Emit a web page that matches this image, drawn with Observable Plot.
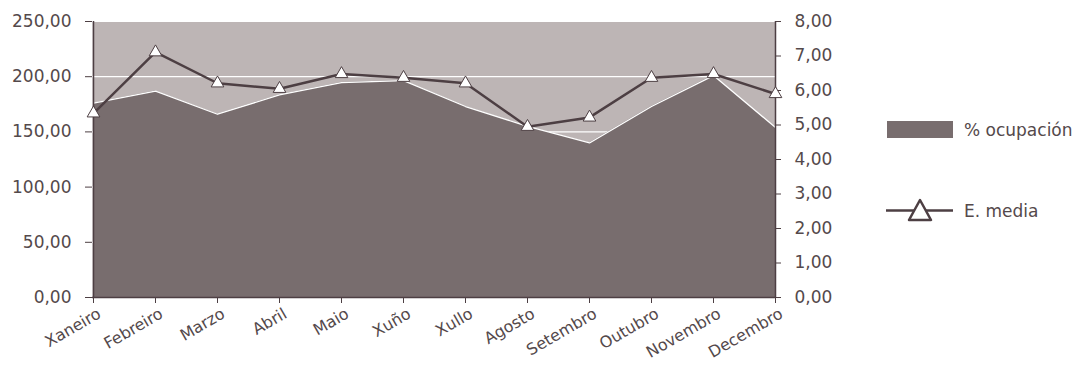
<!DOCTYPE html>
<html>
<head>
<meta charset="utf-8">
<script src="https://cdn.jsdelivr.net/npm/d3@7"></script>
<script src="https://cdn.jsdelivr.net/npm/@observablehq/plot@0.6"></script>
<style>
  body { margin: 0; background: #fff; font-family: "DejaVu Sans", sans-serif; }
  #wrap { position: relative; width: 1074px; height: 367px; }
  .leg { position: absolute; font-size: 17px; line-height: 20px; color: #54494b; font-family: "DejaVu Sans", sans-serif; white-space: nowrap; }
</style>
</head>
<body>
<div id="wrap"></div>
<script>
const months = ["Xaneiro","Febreiro","Marzo","Abril","Maio","Xuño","Xullo","Agosto","Setembro","Outubro","Novembro","Decembro"];
const ocupacion = [176, 187, 166, 183.5, 194.7, 196.5, 173, 155, 140, 173, 201, 154];
const emedia = [5.34, 7.11, 6.21, 6.05, 6.48, 6.37, 6.21, 4.95, 5.22, 6.37, 6.48, 5.90];
const leftTicks = [0, 50, 100, 150, 200, 250];
const rightTicks = [0, 1, 2, 3, 4, 5, 6, 7, 8];
const seriesNames = ["% ocupación", "E. media"];

const RMAX = 8, LMAX = 250;
const data = months.map((m, i) => ({month: m, ocup: ocupacion[i], media: emedia[i]}));
const toLeft = v => v * LMAX / RMAX;
const fmt = v => v.toFixed(2).replace(".", ",");

const dark = "#4d3f43";
const textCol = "#54494b";
const areaCol = "#786d6e";
const bgCol = "#bdb5b5";

const chart = Plot.plot({
  width: 1074,
  height: 367,
  marginLeft: 92,
  marginRight: 299,
  marginTop: 21,
  marginBottom: 70,
  style: {fontFamily: "DejaVu Sans, sans-serif", fontSize: "16px", color: textCol, background: "transparent"},
  x: {type: "point", domain: months, padding: 0},
  y: {domain: [0, LMAX]},
  marks: [
    Plot.frame({fill: bgCol, stroke: null}),
    Plot.gridY(leftTicks, {stroke: "#ffffff", strokeOpacity: 1, strokeWidth: 1.2}),
    Plot.areaY(data, {x: "month", y: "ocup", fill: areaCol}),
    Plot.lineY(data, {x: "month", y: "ocup", stroke: "#ffffff", strokeWidth: 1.3}),
    Plot.ruleX([months[0], months[months.length - 1]], {stroke: dark, strokeWidth: 1.5}),
    Plot.ruleY([0], {stroke: dark, strokeWidth: 1.5}),
    Plot.axisY(leftTicks, {anchor: "left", tickSize: 7, tickPadding: 14, tickFormat: fmt, stroke: dark, fill: textCol, fontSize: 17, label: null}),
    Plot.axisY(rightTicks.map(toLeft), {anchor: "right", tickSize: 5, tickPadding: 14, tickFormat: d => fmt(d * RMAX / LMAX), stroke: dark, fill: textCol, fontSize: 17, textAnchor: "start", label: null}),
    Plot.axisX({anchor: "bottom", tickSize: 6, tickFormat: () => "", stroke: dark, label: null}),
    Plot.axisX({anchor: "bottom", tickSize: 0, tickPadding: 15, tickRotate: -30, dx: 6, fill: textCol, fontSize: 16, label: null}),
    Plot.lineY(data, {x: "month", y: d => toLeft(d.media), stroke: dark, strokeWidth: 2.5}),
    Plot.dot(data, {x: "month", y: d => toLeft(d.media), symbol: "triangle", r: 4.7, fill: "#ffffff", stroke: dark, strokeWidth: 1})
  ]
});
const wrap = document.getElementById("wrap");
wrap.appendChild(chart);

// Legend
const l1 = document.createElement("div");
l1.style.cssText = "position:absolute;left:887px;top:121px;width:66px;height:17px;background:" + areaCol;
wrap.appendChild(l1);
const t1 = document.createElement("div");
t1.className = "leg"; t1.style.left = "964px"; t1.style.top = "120px"; t1.textContent = seriesNames[0];
wrap.appendChild(t1);
const ns = "http://www.w3.org/2000/svg";
const s = document.createElementNS(ns, "svg");
s.setAttribute("width", 70); s.setAttribute("height", 28);
s.style.cssText = "position:absolute;left:885px;top:197px";
s.innerHTML = `<line x1="1" y1="13.5" x2="68" y2="13.5" stroke="${dark}" stroke-width="2.5"/>
<path d="M35,3 L46,23 L24,23 Z" fill="#fff" stroke="${dark}" stroke-width="2.5" stroke-linejoin="round"/>`;
wrap.appendChild(s);
const t2 = document.createElement("div");
t2.className = "leg"; t2.style.left = "964px"; t2.style.top = "201px"; t2.textContent = seriesNames[1];
wrap.appendChild(t2);
</script>
</body>
</html>
